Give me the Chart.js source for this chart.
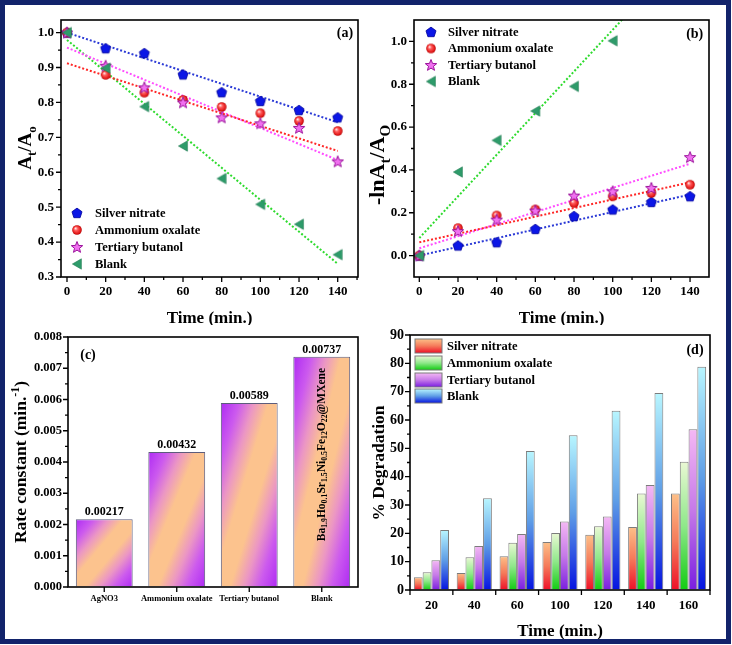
<!DOCTYPE html>
<html>
<head>
<meta charset="utf-8">
<script src="https://cdn.jsdelivr.net/npm/chart.js@4.4.0/dist/chart.umd.min.js"></script>
<style>
  html, body { margin: 0; padding: 0; background: #fff; }
  body { width: 732px; height: 645px; position: relative; overflow: hidden; }
  canvas { position: absolute; }
  #frame { position: absolute; left: 0; top: 0; width: 731px; height: 644px; box-sizing: border-box;
           border: 5px solid #12236b; pointer-events: none; z-index: 5; }
</style>
</head>
<body>
<canvas id="chartA" width="366" height="325" style="left:0;top:0"></canvas>
<canvas id="chartB" width="366" height="325" style="left:366px;top:0"></canvas>
<canvas id="chartC" width="366" height="320" style="left:0;top:325px"></canvas>
<canvas id="chartD" width="366" height="320" style="left:366px;top:325px"></canvas>
<div id="frame"></div>
<script>
const FONT = "'Liberation Serif', 'Times New Roman', serif";

// ---------------- datos (a) At/Ao ----------------
const seriesNames = ['Silver nitrate', 'Ammonium oxalate', 'Tertiary butanol', 'Blank'];
const timeA = [0, 20, 40, 60, 80, 100, 120, 140];
const silverA = [1.0, 0.955, 0.941, 0.880, 0.829, 0.804, 0.778, 0.757];
const ammoniumA = [1.0, 0.879, 0.828, 0.807, 0.787, 0.769, 0.747, 0.718];
const butanolA = [1.0, 0.905, 0.843, 0.800, 0.757, 0.740, 0.727, 0.631];
const blankA = [1.0, 0.898, 0.788, 0.675, 0.582, 0.508, 0.451, 0.364];
const fitTime = [0, 140];
const fitSilverA = [1.0, 0.743];
const fitAmmoniumA = [0.912, 0.661];
const fitButanolA = [0.957, 0.635];
const fitBlankA = [0.979, 0.338];
const xTicksAB = [0, 20, 40, 60, 80, 100, 120, 140];
const yTicksA = [0.3, 0.4, 0.5, 0.6, 0.7, 0.8, 0.9, 1.0];

// ---------------- datos (b) -lnAt/Ao ----------------
const timeB = [0, 20, 40, 60, 80, 100, 120, 140];
const silverB = [0, 0.047, 0.062, 0.124, 0.184, 0.215, 0.250, 0.277];
const ammoniumB = [0, 0.128, 0.187, 0.215, 0.246, 0.277, 0.292, 0.331];
const butanolB = [0, 0.114, 0.168, 0.210, 0.280, 0.300, 0.316, 0.460];
const blankB = [0, 0.390, 0.538, 0.675, 0.790, 1.003];
const fitSilverB = [0, 0.285];
const fitAmmoniumB = [0.062, 0.342];
const fitButanolB = [0.034, 0.429];
const fitBlankB = [0.082, 1.443];
const yTicksB = [0, 0.2, 0.4, 0.6, 0.8, 1.0];

// ---------------- datos (c) rate constant ----------------
const rateLabels = ['AgNO3', 'Ammonium oxalate', 'Tertiary butanol', 'Blank'];
const rateValues = [0.00217, 0.00432, 0.00589, 0.00737];
const yTicksC = [0, 0.001, 0.002, 0.003, 0.004, 0.005, 0.006, 0.007, 0.008];

// ---------------- datos (d) % degradation ----------------
const degTimes = ['20', '40', '60', '100', '120', '140', '160'];
const degSilver = [4.5, 6.0, 11.9, 16.9, 19.5, 22.2, 34.1];
const degAmmonium = [6.3, 11.6, 16.7, 20.1, 22.5, 34.1, 45.3];
const degButanol = [10.5, 15.5, 19.8, 24.2, 25.9, 37.1, 56.7];
const degBlank = [21.2, 32.4, 49.1, 54.6, 63.3, 69.5, 78.8];
const yTicksD = [0, 10, 20, 30, 40, 50, 60, 70, 80, 90];

// ---------------- estilos ----------------
const fitColors = ['#2b3ad6', '#ff2626', '#ff4cff', '#2edb2e'];
const barStops = [
  ['#fdc088', '#f57a5a', '#ee1028'],
  ['#eaf8d4', '#8fe88a', '#12cc12'],
  ['#f4b8f4', '#c67ae8', '#7a1ee0'],
  ['#b8f6ff', '#5f9ee6', '#0614e0']
];

function makeMarker(kind) {
  const c = document.createElement('canvas');
  c.width = 14; c.height = 14;
  const g = c.getContext('2d');
  const m = 7;
  g.beginPath();
  if (kind === 'pentagon') {
    for (let i = 0; i < 5; i++) {
      const a = -Math.PI / 2 + i * 2 * Math.PI / 5;
      g.lineTo(m + 5.3 * Math.cos(a), m + 0.4 + 5.3 * Math.sin(a));
    }
    g.closePath();
    g.fillStyle = '#0b16e6'; g.fill();
    g.strokeStyle = '#00009a'; g.lineWidth = 0.8; g.stroke();
  } else if (kind === 'sphere') {
    g.arc(m, m, 4.8, 0, Math.PI * 2);
    const rg = g.createRadialGradient(m - 1.6, m - 1.8, 0.3, m, m, 4.8);
    rg.addColorStop(0, '#ffe4e4');
    rg.addColorStop(0.35, '#ff5a5a');
    rg.addColorStop(0.8, '#e41c1c');
    rg.addColorStop(1, '#b40000');
    g.fillStyle = rg; g.fill();
  } else if (kind === 'star') {
    for (let i = 0; i < 10; i++) {
      const a = -Math.PI / 2 + i * Math.PI / 5;
      const r = i % 2 === 0 ? 6 : 2.6;
      g.lineTo(m + r * Math.cos(a), m + 0.5 + r * Math.sin(a));
    }
    g.closePath();
    g.fillStyle = '#f070f0'; g.fill();
    g.strokeStyle = '#9a109a'; g.lineWidth = 1; g.stroke();
  } else {
    g.moveTo(m - 4.6, m);
    g.lineTo(m + 4.4, m - 5.2);
    g.lineTo(m + 4.4, m + 5.2);
    g.closePath();
    g.fillStyle = '#2e9b6a'; g.fill();
    g.strokeStyle = '#1f7a50'; g.lineWidth = 0.6; g.stroke();
  }
  return c;
}
const markers = [makeMarker('pentagon'), makeMarker('sphere'), makeMarker('star'), makeMarker('triangle')];

// texto con sub/superindices: partes = [[texto, 'sub'|'sup'|undefined], ...]
function richText(ctx, parts, x, y, size, rotate, align) {
  ctx.save();
  ctx.translate(x, y);
  if (rotate) ctx.rotate(-Math.PI / 2);
  ctx.fillStyle = '#000';
  ctx.textBaseline = 'alphabetic';
  ctx.textAlign = 'left';
  let total = 0;
  const widths = parts.map(p => {
    ctx.font = 'bold ' + (p[1] ? size * 0.68 : size) + 'px ' + FONT;
    const w = ctx.measureText(p[0]).width;
    total += w;
    return w;
  });
  let cx = align === 'left' ? 0 : -total / 2;
  parts.forEach((p, i) => {
    const s = p[1] ? size * 0.68 : size;
    ctx.font = 'bold ' + s + 'px ' + FONT;
    let dy = size * 0.33;
    if (p[1] === 'sub') dy += size * 0.25;
    if (p[1] === 'sup') dy -= size * 0.4;
    ctx.fillText(p[0], cx, dy);
    cx += widths[i];
  });
  ctx.restore();
}

function vGrad(ctx, top, bottom, stops) {
  const g = ctx.createLinearGradient(0, top, 0, bottom);
  stops.forEach((c, i) => g.addColorStop(i / (stops.length - 1), c));
  return g;
}
const ok = v => Number.isFinite(v);

// ejes estilo Origin: caja, ticks mayores y menores hacia fuera
function drawFrame(chart, cfg) {
  const { ctx, chartArea: a } = chart;
  const xs = chart.scales.x, ys = chart.scales.y;
  ctx.save();
  ctx.strokeStyle = '#000';
  ctx.lineWidth = 1.3;
  ctx.beginPath();
  (cfg.xMajor || []).forEach(v => { const p = xs.getPixelForValue(v); ctx.moveTo(p, a.bottom); ctx.lineTo(p, a.bottom + 5); });
  (cfg.xMinor || []).forEach(v => { const p = xs.getPixelForValue(v); ctx.moveTo(p, a.bottom); ctx.lineTo(p, a.bottom + 3); });
  (cfg.yMajor || []).forEach(v => { const p = ys.getPixelForValue(v); ctx.moveTo(a.left, p); ctx.lineTo(a.left - 5, p); });
  (cfg.yMinor || []).forEach(v => { const p = ys.getPixelForValue(v); ctx.moveTo(a.left, p); ctx.lineTo(a.left - 3, p); });
  ctx.stroke();
  ctx.lineWidth = 1.6;
  ctx.strokeRect(a.left, a.top, a.right - a.left, a.bottom - a.top);
  ctx.restore();
}

function decor(cfg) {
  return {
    id: 'decor' + cfg.name,
    afterDraw(chart) {
      const ctx = chart.ctx;
      drawFrame(chart, cfg);
      cfg.titles.forEach(t => richText(ctx, t.parts, t.x, t.y, t.size, t.rot));
      ctx.save();
      ctx.fillStyle = '#000';
      ctx.font = 'bold 14px ' + FONT;
      ctx.textAlign = 'center';
      ctx.textBaseline = 'middle';
      ctx.fillText(cfg.tag[0], cfg.tag[1], cfg.tag[2]);
      if (cfg.legend) {
        const L = cfg.legend;
        ctx.font = 'bold 12.5px ' + FONT;
        ctx.textAlign = 'left';
        seriesNames.forEach((name, i) => {
          const y = L.ys[i];
          if (L.kind === 'marker') {
            const mk = markers[i];
            ctx.drawImage(mk, L.mx - mk.width / 2, y - mk.height / 2);
          } else {
            ctx.fillStyle = vGrad(ctx, y - 7, y + 7, barStops[i]);
            ctx.fillRect(L.mx - 13.5, y - 7, 27, 14);
            ctx.strokeStyle = '#7a7a7a';
            ctx.lineWidth = 1;
            ctx.strokeRect(L.mx - 13.5, y - 7, 27, 14);
          }
          ctx.fillStyle = '#000';
          ctx.fillText(name, L.tx, y + 0.5);
        });
      }
      ctx.restore();
    }
  };
}

function tickFont(size) { return { family: FONT, weight: 'bold', size: size }; }
function axisGrid() { return { display: true, drawOnChartArea: false, drawTicks: true, tickLength: 5, color: 'rgba(0,0,0,0)' }; }
function minorOf(ticks, lo, hi) {
  const step = ticks[1] - ticks[0];
  const out = [];
  for (let i = -1; i < ticks.length; i++) {
    const v = ticks[0] + (i + 0.5) * step;
    if (v > lo && v < hi) out.push(v);
  }
  return out;
}

// ---------------- (a) y (b): dispersion + ajustes ----------------
function scatterChart(id, W, H, area, xr, yr, yTicks, digits, sets, fits, cfg) {
  const datasets = [];
  fits.forEach((f, i) => {
    datasets.push({
      type: 'line', data: fitTime.map((t, k) => ({ x: t, y: f[k] })),
      borderColor: fitColors[i], borderWidth: 2, borderDash: [2, 2], pointRadius: 0,
      fill: false, order: 10 + i
    });
  });
  sets.forEach((s, i) => {
    datasets.push({
      label: seriesNames[i], data: s.map((v, k) => ({ x: timeA[k], y: v })),
      pointStyle: markers[i], pointRadius: 6, showLine: false, order: 3 - i
    });
  });
  return new Chart(document.getElementById(id), {
    type: 'scatter',
    data: { datasets },
    options: {
      responsive: false, animation: false,
      layout: { padding: { left: 0, top: area.top, right: W - area.right, bottom: 0 } },
      plugins: { legend: { display: false }, tooltip: { enabled: false } },
      scales: {
        x: {
          type: 'linear', min: xr[0], max: xr[1],
          afterBuildTicks: s => { s.ticks = xTicksAB.map(v => ({ value: v })); },
          afterFit: s => { s.height = H - area.bottom; },
          grid: axisGrid(), border: { display: false },
          ticks: { font: tickFont(13), color: '#000', padding: 2, maxRotation: 0, callback: v => String(v) }
        },
        y: {
          type: 'linear', min: yr[0], max: yr[1],
          afterBuildTicks: s => { s.ticks = yTicks.map(v => ({ value: v })); },
          afterFit: s => { s.width = area.left; },
          grid: axisGrid(), border: { display: false },
          ticks: { font: tickFont(13), color: '#000', padding: 2, callback: v => Number(v).toFixed(digits) }
        }
      }
    },
    plugins: [decor(cfg)]
  });
}

scatterChart('chartA', 366, 325, { left: 61, right: 358, top: 20, bottom: 277 },
  [-3.1, 150.5], [0.3, 1.036], yTicksA, 1,
  [silverA, ammoniumA, butanolA, blankA],
  [fitSilverA, fitAmmoniumA, fitButanolA, fitBlankA],
  {
    name: 'A',
    xMajor: xTicksAB, xMinor: minorOf(xTicksAB, -3.1, 150.5),
    yMajor: yTicksA, yMinor: minorOf(yTicksA, 0.3, 1.036),
    titles: [
      { parts: [['A'], ['t', 'sub'], ['/A'], ['o', 'sub']], x: 25, y: 148, size: 19, rot: true },
      { parts: [['Time (min.)']], x: 209.5, y: 317, size: 17, rot: false }
    ],
    tag: ['(a)', 345, 33],
    legend: { kind: 'marker', mx: 77, tx: 95, ys: [213, 230, 247, 264] }
  });

scatterChart('chartB', 366, 325, { left: 48, right: 343, top: 20, bottom: 277 },
  [-2.75, 149.8], [-0.1, 1.1], yTicksB, 1,
  [silverB, ammoniumB, butanolB, blankB],
  [fitSilverB, fitAmmoniumB, fitButanolB, fitBlankB],
  {
    name: 'B',
    xMajor: xTicksAB, xMinor: minorOf(xTicksAB, -2.75, 149.8),
    yMajor: yTicksB, yMinor: minorOf(yTicksB, -0.1, 1.1),
    titles: [
      { parts: [['-lnA'], ['t', 'sub'], ['/A'], ['O', 'sub']], x: 11, y: 165, size: 22, rot: true },
      { parts: [['Time (min.)']], x: 195.5, y: 317, size: 17, rot: false }
    ],
    tag: ['(b)', 328.7, 34],
    legend: { kind: 'marker', mx: 65, tx: 82, ys: [32, 48.5, 65, 81.5] }
  });

// ---------------- (c) constantes de velocidad ----------------
const catPctC = 0.8, barPctC = 0.98;
function diagFill(c) {
  const ch = c.chart, xs = ch.scales.x, ys = ch.scales.y;
  if (!xs || !ys || c.type !== 'data' || !c.parsed) return '#fcc38e';
  const w = xs.width / rateLabels.length * catPctC * barPctC;
  const x0 = xs.getPixelForValue(c.dataIndex) - w / 2;
  const y0 = ys.getPixelForValue(c.parsed.y);
  const h = ys.getPixelForValue(0) - y0;
  if (!ok(w) || !ok(x0) || !ok(y0) || !ok(h) || !(h > 0) || !(w > 0)) return '#fcc38e';
  const k = 2 * w * h / (w * w + h * h);
  const g = ch.ctx.createLinearGradient(x0, y0, x0 + h * k, y0 + w * k);
  g.addColorStop(0, '#ae2af4');
  g.addColorStop(0.16, '#cc5aee');
  g.addColorStop(0.29, '#eb96c4');
  g.addColorStop(0.42, '#fcc38e');
  g.addColorStop(0.58, '#fcc38e');
  g.addColorStop(0.71, '#eb96c4');
  g.addColorStop(0.84, '#cc5aee');
  g.addColorStop(1, '#ae2af4');
  return g;
}
const areaC = { left: 68, right: 358, top: 12, bottom: 262 };
new Chart(document.getElementById('chartC'), {
  type: 'bar',
  data: {
    labels: rateLabels,
    datasets: [{
      data: rateValues, backgroundColor: diagFill, borderColor: '#5c5c7c', borderWidth: 1,
      categoryPercentage: catPctC, barPercentage: barPctC
    }]
  },
  options: {
    responsive: false, animation: false,
    layout: { padding: { left: 0, top: areaC.top, right: 366 - areaC.right, bottom: 0 } },
    plugins: { legend: { display: false }, tooltip: { enabled: false } },
    scales: {
      x: {
        afterFit: s => { s.height = 320 - areaC.bottom; },
        grid: axisGrid(), border: { display: false },
        ticks: { font: tickFont(8.5), color: '#000', padding: 2, maxRotation: 0, autoSkip: false }
      },
      y: {
        min: 0, max: 0.008,
        afterBuildTicks: s => { s.ticks = yTicksC.map(v => ({ value: v })); },
        afterFit: s => { s.width = areaC.left; },
        grid: axisGrid(), border: { display: false },
        ticks: { font: tickFont(12.5), color: '#000', padding: 1, callback: v => Number(v).toFixed(3) }
      }
    }
  },
  plugins: [{
    id: 'rateLabels',
    afterDatasetsDraw(chart) {
      const ctx = chart.ctx;
      const meta = chart.getDatasetMeta(0);
      ctx.save();
      ctx.fillStyle = '#000';
      ctx.font = 'bold 12px ' + FONT;
      ctx.textAlign = 'center';
      ctx.textBaseline = 'bottom';
      meta.data.forEach((el, i) => ctx.fillText(rateValues[i].toFixed(5), el.x, el.y - 1));
      ctx.restore();
      const last = meta.data[meta.data.length - 1];
      richText(ctx, [['Ba'], ['1.9', 'sub'], ['Ho'], ['0.1', 'sub'], ['Sr'], ['1.5', 'sub'], ['Ni'], ['0.5', 'sub'],
        ['Fe'], ['12', 'sub'], ['O'], ['22', 'sub'], ['@MXene']],
        last.x - 1, (last.y + last.base) / 2 - 17, 11.5, true);
    }
  }, decor({
    name: 'C',
    xMajor: rateLabels.map((_, i) => i), xMinor: [],
    yMajor: yTicksC, yMinor: minorOf(yTicksC, 0, 0.008),
    titles: [
      { parts: [['Rate constant (min.'], ['-1', 'sup'], [')']], x: 20, y: 137, size: 17.5, rot: true }
    ],
    tag: ['(c)', 88, 30]
  })]
});

// ---------------- (d) % degradacion ----------------
const areaD = { left: 44, right: 344, top: 10, bottom: 265 };
const degSets = [degSilver, degAmmonium, degButanol, degBlank];
function barFill(i) {
  return c => {
    const ys = c.chart.scales.y;
    if (!ys || c.type !== 'data' || !c.parsed) return barStops[i][0];
    const top = ys.getPixelForValue(c.parsed.y), bot = ys.getPixelForValue(0);
    if (!ok(top) || !ok(bot) || !(bot > top)) return barStops[i][0];
    return vGrad(c.chart.ctx, top, bot, barStops[i]);
  };
}
new Chart(document.getElementById('chartD'), {
  type: 'bar',
  data: {
    labels: degTimes,
    datasets: degSets.map((s, i) => ({
      label: seriesNames[i], data: s, backgroundColor: barFill(i),
      borderColor: '#7c7c7c', borderWidth: 1, categoryPercentage: 0.82, barPercentage: 1.0
    }))
  },
  options: {
    responsive: false, animation: false,
    layout: { padding: { left: 0, top: areaD.top, right: 366 - areaD.right, bottom: 0 } },
    plugins: { legend: { display: false }, tooltip: { enabled: false } },
    scales: {
      x: {
        afterFit: s => { s.height = 320 - areaD.bottom; },
        grid: axisGrid(), border: { display: false },
        ticks: { font: tickFont(13), color: '#000', padding: 3, maxRotation: 0, autoSkip: false }
      },
      y: {
        min: 0, max: 90,
        afterBuildTicks: s => { s.ticks = yTicksD.map(v => ({ value: v })); },
        afterFit: s => { s.width = areaD.left; },
        grid: axisGrid(), border: { display: false },
        ticks: { font: tickFont(14), color: '#000', padding: 1, callback: v => String(v) }
      }
    }
  },
  plugins: [decor({
    name: 'D',
    xMajor: degTimes.map((_, i) => i - 0.5).concat([degTimes.length - 0.5]), xMinor: [],
    yMajor: yTicksD, yMinor: minorOf(yTicksD, 0, 90),
    titles: [
      { parts: [['% Degradation']], x: 12, y: 138, size: 17.5, rot: true },
      { parts: [['Time (min.)']], x: 194, y: 305, size: 17, rot: false }
    ],
    tag: ['(d)', 329, 25],
    legend: { kind: 'swatch', mx: 62.5, tx: 81, ys: [21, 38, 55, 71] }
  })]
});
</script>
</body>
</html>
